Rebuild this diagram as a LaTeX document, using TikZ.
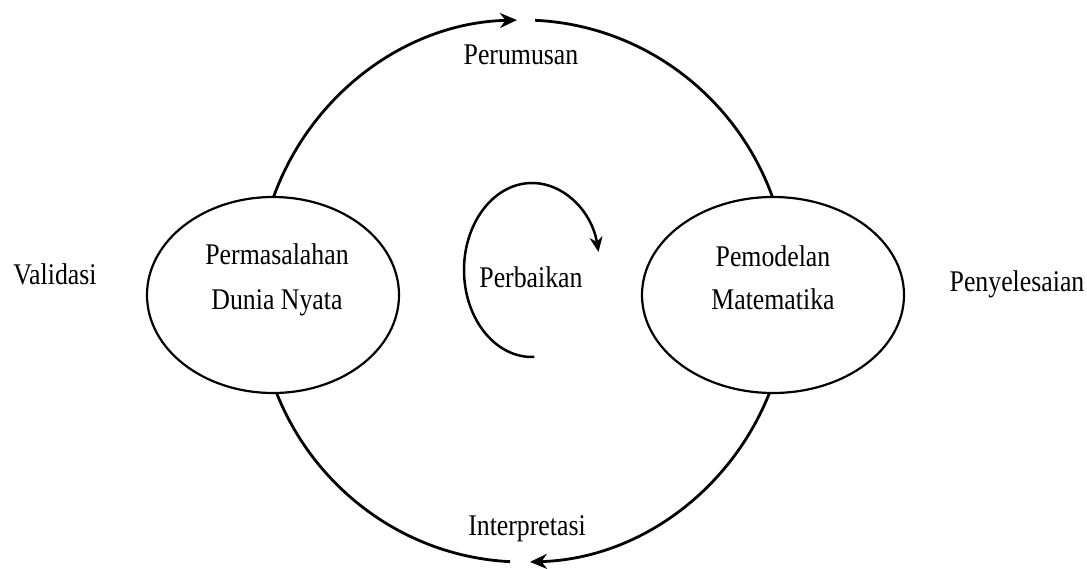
\documentclass[tikz,border=0pt]{standalone}
\usepackage{fontspec}
\setmainfont[FakeStretch=0.86]{Liberation Serif}
\usetikzlibrary{shapes.geometric,arrows.meta}
\begin{document}
\begin{tikzpicture}[x=1pt,y=1pt,
  lbl/.style={font=\fontsize{30}{44}\selectfont, anchor=base, inner sep=0pt},
  cyc/.style={line width=2.8pt},
  bigtip/.style={-{Stealth[length=17pt,width=15pt]}},
  smalltip/.style={-{Stealth[length=15pt,width=13pt]}},
  bubble/.style={ellipse, draw, line width=2.2pt, fill=white, inner sep=0pt, minimum height=196pt}]
\useasboundingbox (0,0) rectangle (1087,-569);
\coordinate (C) at (523,-291);
\coordinate (P) at (532,-270);
% outer cycle
\draw[cyc,bigtip] ([shift={(163:266pt and 271pt)}]C) arc[start angle=163, end angle=91.3, x radius=266pt, y radius=271pt];
\draw[cyc] ([shift={(87.4:266pt and 271pt)}]C) arc[start angle=87.4, end angle=17, x radius=266pt, y radius=271pt];
\draw[cyc,bigtip] ([shift={(-17:266pt and 271pt)}]C) arc[start angle=-17, end angle=-88.5, x radius=266pt, y radius=271pt];
\draw[cyc] ([shift={(-92.8:266pt and 271pt)}]C) arc[start angle=-92.8, end angle=-163, x radius=266pt, y radius=271pt];
% inner arc
\draw[line width=2.5pt,smalltip] ([shift={(272:68pt and 87pt)}]P) arc[start angle=272, end angle=12, x radius=68pt, y radius=87pt];
% ellipses
\node[bubble, minimum width=252pt] (L) at (273,-295) {};
\node[bubble, minimum width=262pt] (R) at (773,-295) {};
% labels
\node[lbl] (l1) at (277,-265) {Permasalahan};
\node[lbl] (l2) at (277,-310) {Dunia Nyata};
\node[lbl] (r1) at (773,-267) {Pemodelan};
\node[lbl] (r2) at (773,-310) {Matematika};
\node[lbl] (top) at (521,-65) {Perumusan};
\node[lbl] (bot) at (527,-535) {Interpretasi};
\node[lbl] (val) at (55,-285) {Validasi};
\node[lbl] (pen) at (1017,-292) {Penyelesaian};
\node[lbl] (per) at (531,-288) {Perbaikan};
\end{tikzpicture}
\end{document}
